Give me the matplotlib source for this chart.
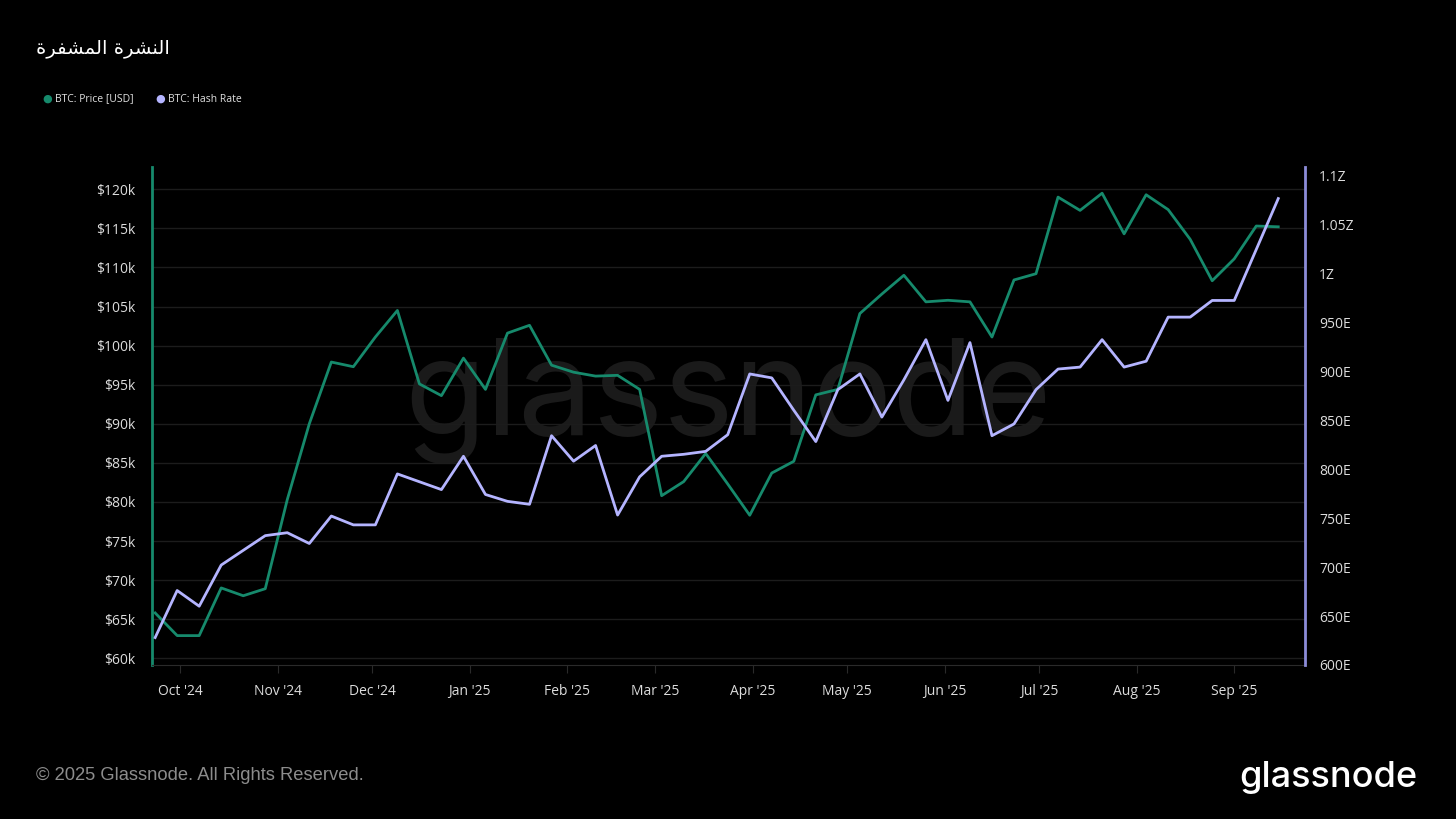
import matplotlib
matplotlib.use("Agg")
import matplotlib.pyplot as plt
import matplotlib.dates as mdates
import pandas as pd

# weekly samples, Sep 23 2024 -> Sep 15 2025
dates = pd.date_range("2024-09-23", periods=52, freq="7D")

price_k = [65.8, 62.9, 62.9, 69.0, 68.0, 68.9, 80.3, 90.0, 97.9, 97.3,
           101.1, 104.5, 95.1, 93.6, 98.4, 94.4, 101.6, 102.6, 97.5, 96.6,
           96.1, 96.2, 94.4, 80.8, 82.6, 86.2, 82.3, 78.3, 83.7, 85.2,
           93.7, 94.4, 104.1, 106.6, 109.0, 105.6, 105.8, 105.6, 101.1, 108.4,
           109.2, 119.0, 117.3, 119.5, 114.3, 119.3, 117.4, 113.6, 108.3, 111.1,
           115.3, 115.2]

hash_e = [628, 676, 660, 702, 717, 732, 735, 724, 752, 743,
          743, 795, 787, 779, 813, 774, 767, 764, 834, 808,
          824, 753, 792, 813, 815, 818, 835, 897, 893, 860,
          828, 881, 897, 853, 891, 932, 870, 929, 834, 846,
          881, 902, 904, 932, 904, 910, 955, 955, 972, 972,
          1024, 1076]

price_ticks = list(range(60, 121, 5))
hash_ticks = list(range(600, 1101, 50))

title = "\ufe93\ufeae\ufed4\ufeb8\ufee4\ufedf\ufe8d \ufe93\ufeae\ufeb8\ufee8\ufedf\ufe8d"  # النشرة المشفرة, pre-shaped

GREEN = "#168a6c"
PURPLE = "#b4b4ff"
BG = "#000000"

fig = plt.figure(figsize=(14.56, 8.19), dpi=100, facecolor=BG)
ax = fig.add_axes([152 / 1456, 1 - 665 / 819, (1305 - 152) / 1456, (665 - 166.7) / 819])
ax.set_facecolor(BG)
ax2 = ax.twinx()

ax.plot(dates, price_k, color=GREEN, lw=2.0, zorder=3)
ax2.plot(dates, hash_e, color=PURPLE, lw=2.0, zorder=3)

ax.set_xlim(pd.Timestamp("2024-09-22"), pd.Timestamp("2025-09-23 12:00"))
ax.set_ylim(59.14, 122.89)
ax2.set_ylim(600, 1108.5)

ax.set_yticks(price_ticks)
ax.set_yticklabels([f"${v}k" for v in price_ticks])
ax2.set_yticks(hash_ticks)
ax2.set_yticklabels([f"{v / 1000:g}Z" if v >= 1000 else f"{v}E" for v in hash_ticks])

ax.xaxis.set_major_locator(mdates.MonthLocator())
ax.xaxis.set_major_formatter(mdates.DateFormatter("%b '%y"))

ax.grid(axis="y", color="#1c1c1c", lw=1)
ax.set_axisbelow(True)

for a in (ax, ax2):
    for s in a.spines.values():
        s.set_visible(False)
ax.spines["left"].set_visible(True)
ax.spines["left"].set_color(GREEN)
ax.spines["left"].set_linewidth(2)
ax2.spines["right"].set_visible(True)
ax2.spines["right"].set_color("#8c8cd8")
ax2.spines["right"].set_linewidth(2)
ax.spines["bottom"].set_visible(True)
ax.spines["bottom"].set_color("#2a2a2a")

ax.tick_params(axis="y", length=0, pad=12, labelsize=10, labelcolor="#dcdcdc")
ax2.tick_params(axis="y", length=0, pad=10, labelsize=10, labelcolor="#dcdcdc")
ax.tick_params(axis="x", length=6, color="#2a2a2a", pad=8, labelsize=10, labelcolor="#dcdcdc")
for lbl in ax.get_xticklabels() + ax.get_yticklabels() + ax2.get_yticklabels():
    lbl.set_fontfamily("Open Sans")

# watermark
ax.text(0.5, 0.53, "glassnode", transform=ax.transAxes, ha="center", va="center",
        fontsize=96, color="#1a1a1a", family="Inter", zorder=0)

fig.text(36 / 1456, 1 - 49 / 819, title, color="white", fontsize=14,
         family=["DejaVu Sans"], ha="left", va="center")

# legend
fig.text(47 / 1456, 1 - 99 / 819, "\u25cf", color=GREEN, fontsize=8, ha="center", va="center")
fig.text(55 / 1456, 1 - 99 / 819, "BTC: Price [USD]", color="#e0e0e0", fontsize=7.5,
         family="Open Sans", ha="left", va="center")
fig.text(160 / 1456, 1 - 99 / 819, "\u25cf", color=PURPLE, fontsize=8, ha="center", va="center")
fig.text(168 / 1456, 1 - 99 / 819, "BTC: Hash Rate", color="#e0e0e0", fontsize=7.5,
         family="Open Sans", ha="left", va="center")

fig.text(36 / 1456, 1 - 776 / 819, "\u00a9 2025 Glassnode. All Rights Reserved.", color="#8c8c8c",
         fontsize=13.2, family="Liberation Sans", ha="left", va="center")
fig.text(1417 / 1456, 1 - 778 / 819, "glassnode", color="white", fontsize=26,
         family="Inter", weight="medium", ha="right", va="center")

fig.savefig("out.png", dpi=100, facecolor=BG)
